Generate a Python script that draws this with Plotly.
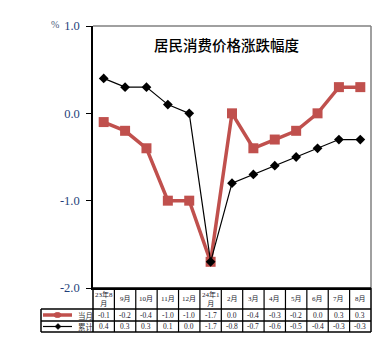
import plotly.graph_objects as go

months = ["23年8<br>月", "9月", "10月", "11月", "12月", "24年1<br>月", "2月", "3月", "4月", "5月", "6月", "7月", "8月"]
dangyue = [-0.1, -0.2, -0.4, -1.0, -1.0, -1.7, 0.0, -0.4, -0.3, -0.2, 0.0, 0.3, 0.3]
leiji = [0.4, 0.3, 0.3, 0.1, 0.0, -1.7, -0.8, -0.7, -0.6, -0.5, -0.4, -0.3, -0.3]
yticks = [1.0, 0.0, -1.0, -2.0]

RED = "#c0504d"
W, H = 374, 348
ML, MR, MT, MB = 93, 3, 26, 60
PW = W - ML - MR
PH = H - MT - MB

def py(pix):
    return (H - MB - pix) / PH

def px(pix):
    return (pix - ML) / PW

x = list(range(len(months)))
fig = go.Figure()
fig.add_trace(go.Scatter(x=x, y=dangyue, mode="lines+markers", name="当月",
                         line=dict(color=RED, width=3.5),
                         marker=dict(symbol="square", size=10, color=RED),
                         cliponaxis=False))
fig.add_trace(go.Scatter(x=x, y=leiji, mode="lines+markers", name="累计",
                         line=dict(color="black", width=1.2),
                         marker=dict(symbol="diamond", size=7.5, color="black"),
                         cliponaxis=False))

shapes = []
ann = []
shapes.append(dict(type="line", xref="paper", yref="paper", x0=0, x1=1, y0=1, y1=1,
                   line=dict(color="#808080", width=1.5)))
shapes.append(dict(type="line", xref="paper", yref="paper", x0=1, x1=1, y0=0, y1=1,
                   line=dict(color="#808080", width=1.5)))

r0, r1, r2, r3 = py(288), py(309), py(321), py(332)
xl = px(41)
shapes.append(dict(type="line", xref="paper", yref="paper", x0=0, x1=1, y0=r0, y1=r0, line=dict(color="black", width=1.5)))
for yy in (r1, r2, r3):
    shapes.append(dict(type="line", xref="paper", yref="paper", x0=xl, x1=1, y0=yy, y1=yy, line=dict(color="black", width=1.5)))
shapes.append(dict(type="line", xref="paper", yref="paper", x0=xl, x1=xl, y0=r1, y1=r3, line=dict(color="black", width=1.5)))
for i in range(len(months) + 1):
    xx = i / len(months)
    shapes.append(dict(type="line", xref="paper", yref="paper", x0=xx, x1=xx, y0=r0, y1=r3,
                       line=dict(color="black", width=1.5 if i in (0, len(months)) else 1.2)))

head_font = dict(family="Liberation Serif, Noto Sans CJK SC", size=7, color="#1a1a2e")
cell_font = dict(family="Liberation Serif, Noto Sans CJK SC", size=7.5, color="#1a1a2e")
for i, m in enumerate(months):
    ann.append(dict(x=i, y=(r0 + r1) / 2, xref="x", yref="paper", text=m, showarrow=False,
                    xanchor="center", yanchor="middle", font=head_font))
    ann.append(dict(x=i, y=(r1 + r2) / 2, xref="x", yref="paper", text=f"{dangyue[i]:.1f}", showarrow=False,
                    xanchor="center", yanchor="middle", font=cell_font))
    ann.append(dict(x=i, y=(r2 + r3) / 2, xref="x", yref="paper", text=f"{leiji[i]:.1f}", showarrow=False,
                    xanchor="center", yanchor="middle", font=cell_font))

ya, yb = (r1 + r2) / 2, (r2 + r3) / 2
shapes.append(dict(type="line", xref="paper", yref="paper", x0=px(43), x1=px(72), y0=ya, y1=ya,
                   line=dict(color=RED, width=3.5)))
shapes.append(dict(type="circle", xref="paper", yref="paper", x0=px(54), x1=px(61), y0=ya - 2.5 / PH, y1=ya + 2.5 / PH,
                   line=dict(color=RED, width=1), fillcolor=RED))
shapes.append(dict(type="line", xref="paper", yref="paper", x0=px(43), x1=px(72), y0=yb, y1=yb,
                   line=dict(color="black", width=1.2)))
shapes.append(dict(type="path", xref="paper", yref="paper",
                   path=f"M {px(55)} {yb} L {px(58)} {yb + 3 / PH} L {px(61)} {yb} L {px(58)} {yb - 3 / PH} Z",
                   fillcolor="black", line=dict(color="black", width=0.5)))
lab_font = dict(family="Noto Sans CJK SC", size=7.5, color="#333")
ann.append(dict(x=px(76), y=ya, xref="paper", yref="paper", text="当月", showarrow=False,
                xanchor="left", yanchor="middle", font=lab_font))
ann.append(dict(x=px(76), y=yb, xref="paper", yref="paper", text="累计", showarrow=False,
                xanchor="left", yanchor="middle", font=lab_font))

ann.append(dict(x=px(226), y=py(45), xref="paper", yref="paper", text="居民消费价格涨跌幅度", showarrow=False,
                xanchor="center", yanchor="middle",
                font=dict(family="Noto Sans CJK SC", size=14.5, color="black", weight=500)))
ann.append(dict(x=px(55), y=py(24), xref="paper", yref="paper", text="%", showarrow=False,
                xanchor="center", yanchor="middle",
                font=dict(family="Liberation Serif", size=10, color="#4a5a7a")))

fig.update_layout(
    width=W, height=H, margin=dict(l=ML, r=MR, t=MT, b=MB),
    paper_bgcolor="white", plot_bgcolor="white", showlegend=False,
    shapes=shapes, annotations=ann,
    xaxis=dict(range=[-0.5, len(months) - 0.5], showticklabels=False, showgrid=False, zeroline=False,
               showline=True, linecolor="black", linewidth=1.5, ticks="", fixedrange=True),
    yaxis=dict(range=[-2.0, 1.0], tickvals=yticks, ticktext=[f"{v:.1f}" for v in yticks],
               showgrid=False, zeroline=False, showline=True, linecolor="black", linewidth=1.5,
               ticks="outside", ticklen=5, tickcolor="black", ticklabelstandoff=4,
               tickfont=dict(family="Liberation Serif", size=12.5, color="#1f3f7a")),
)
fig.write_html("out.html")
